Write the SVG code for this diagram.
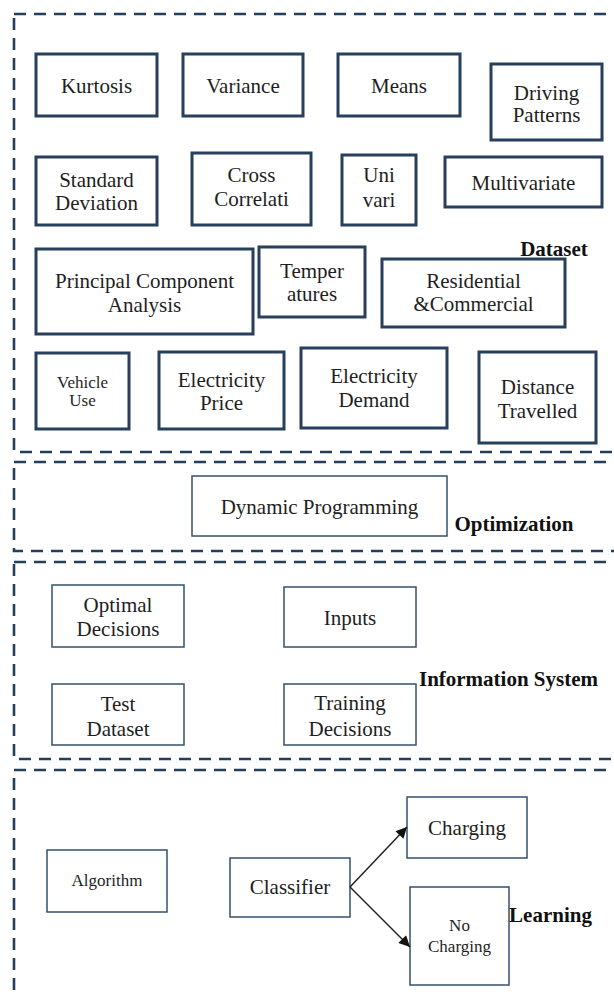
<svg xmlns="http://www.w3.org/2000/svg" width="614" height="998" viewBox="0 0 614 998" font-family="'Liberation Serif','DejaVu Serif','Times New Roman',serif">
<style>
.sec{fill:none;stroke:#243f5c;stroke-width:2.6;stroke-dasharray:12 8}
.bx{fill:#fff;stroke:#263f5a;stroke-width:3}
.bt{fill:#fff;stroke:#34506c;stroke-width:1.5}
text{font-family:'Liberation Serif','DejaVu Serif','Times New Roman',serif;font-size:21px;fill:#1e1e1e;text-anchor:middle}
.sm{font-size:17px}
.lb{font-weight:bold;font-size:21px;fill:#111}
.ar{stroke:#222;stroke-width:1.5;fill:none;marker-end:url(#ah)}
</style>
<defs>
<marker id="ah" viewBox="0 0 10 10" refX="10" refY="5" markerWidth="12" markerHeight="11" markerUnits="userSpaceOnUse" orient="auto"><path d="M0,0 L10,5 L0,10 z" fill="#111"/></marker>
</defs>
<rect width="614" height="998" fill="#fff"/>
<g id="sections">
<rect class="sec" x="14" y="14" width="620" height="438"/>
<rect class="sec" x="14" y="462" width="620" height="89"/>
<rect class="sec" x="14" y="562" width="620" height="197"/>
<rect class="sec" x="14" y="770" width="620" height="260"/>
</g>
<g id="kurtosis"><rect class="bx" x="36" y="54" width="121" height="62"/><text x="96.5" y="93">Kurtosis</text></g>
<g id="variance"><rect class="bx" x="183" y="54" width="120" height="62"/><text x="243" y="93">Variance</text></g>
<g id="means"><rect class="bx" x="338" y="54" width="122" height="62"/><text x="399" y="93">Means</text></g>
<g id="driving"><rect class="bx" x="491" y="64" width="111" height="76"/><text x="546.5" y="100">Driving</text><text x="546.5" y="122">Patterns</text></g>
<g id="stddev"><rect class="bx" x="36" y="157" width="121" height="68"/><text x="96.5" y="187">Standard</text><text x="96.5" y="210">Deviation</text></g>
<g id="crosscorr"><rect class="bx" x="192" y="153" width="119" height="72"/><text x="251.5" y="182">Cross</text><text x="251.5" y="206">Correlati</text></g>
<g id="univari"><rect class="bx" x="342" y="155" width="74" height="70"/><text x="379" y="182">Uni</text><text x="379" y="207">vari</text></g>
<g id="multivariate"><rect class="bx" x="445" y="157" width="157" height="50"/><text x="523.5" y="190">Multivariate</text></g>
<g id="pca"><rect class="bx" x="36" y="249" width="217" height="85"/><text x="144.5" y="288">Principal Component</text><text x="144.5" y="312">Analysis</text></g>
<g id="temperatures"><rect class="bx" x="259" y="247" width="106" height="70"/><text x="312" y="278">Temper</text><text x="312" y="301">atures</text></g>
<g id="residential"><rect class="bx" x="382" y="259" width="183" height="68"/><text x="473.5" y="288">Residential</text><text x="473.5" y="311">&amp;Commercial</text></g>
<g id="vehicleuse"><rect class="bx" x="36" y="353" width="93" height="76"/><text class="sm" x="82.5" y="388">Vehicle</text><text class="sm" x="82.5" y="406">Use</text></g>
<g id="elecprice"><rect class="bx" x="159" y="352" width="125" height="77"/><text x="221.5" y="387">Electricity</text><text x="221.5" y="410">Price</text></g>
<g id="elecdemand"><rect class="bx" x="301" y="348" width="146" height="80"/><text x="374" y="383">Electricity</text><text x="374" y="407">Demand</text></g>
<g id="distance"><rect class="bx" x="479" y="352" width="117" height="91"/><text x="537.5" y="394">Distance</text><text x="537.5" y="418">Travelled</text></g>
<g id="dataset-label"><text class="lb" x="554" y="256">Dataset</text></g>
<g id="dynprog"><rect class="bt" x="192" y="476" width="255" height="60"/><text x="319.5" y="514">Dynamic Programming</text></g>
<g id="optimization-label"><text class="lb" x="514" y="531">Optimization</text></g>
<g id="optimal"><rect class="bt" x="52" y="585" width="132" height="62"/><text x="118" y="612">Optimal</text><text x="118" y="636">Decisions</text></g>
<g id="inputs"><rect class="bt" x="284" y="587" width="132" height="60"/><text x="350" y="625">Inputs</text></g>
<g id="testdataset"><rect class="bt" x="52" y="684" width="132" height="61"/><text x="118" y="711">Test</text><text x="118" y="736">Dataset</text></g>
<g id="training"><rect class="bt" x="284" y="684" width="132" height="61"/><text x="350" y="710">Training</text><text x="350" y="736">Decisions</text></g>
<g id="infosys-label"><text class="lb" x="508.5" y="686">Information System</text></g>
<g id="algorithm"><rect class="bt" x="47" y="850" width="120" height="62"/><text class="sm" x="107" y="886">Algorithm</text></g>
<g id="classifier"><rect class="bt" x="230" y="858" width="120" height="59"/><text x="290" y="894">Classifier</text></g>
<g id="charging"><rect class="bt" x="407" y="797" width="120" height="61"/><text x="467" y="835">Charging</text></g>
<g id="nocharging"><rect class="bt" x="410" y="887" width="99" height="98"/><text class="sm" x="459.5" y="931">No</text><text class="sm" x="459.5" y="952">Charging</text></g>
<g id="learning-label"><text class="lb" x="550.5" y="922">Learning</text></g>
<g id="connectors">
<path class="ar" d="M350,887 L407,827"/>
<path class="ar" d="M350,887 L410,947"/>
</g>
</svg>
